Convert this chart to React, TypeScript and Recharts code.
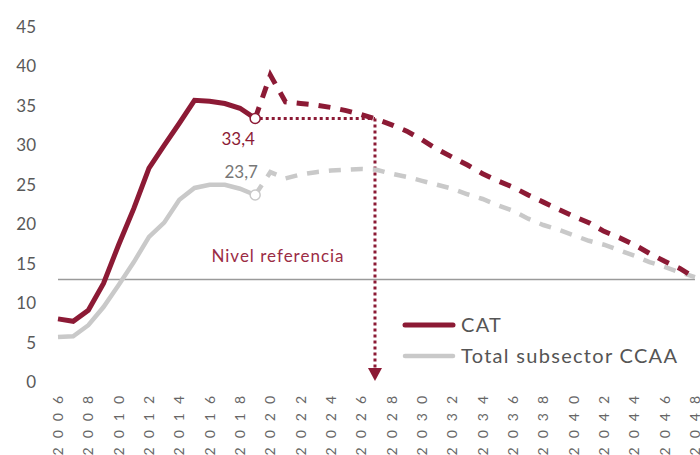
import {
  LineChart,
  Line,
  XAxis,
  YAxis,
  ReferenceLine,
  ReferenceDot,
} from "recharts";

const years: number[] = [];
for (let y = 2006; y <= 2048; y++) years.push(y);

const yearTicks = years.filter((y) => y % 2 === 0);
const valueTicks = [0, 5, 10, 15, 20, 25, 30, 35, 40, 45];

// 2006-2019
const catHist = [8.0, 7.7, 9.1, 12.5, 17.4, 22.0, 27.1, 30.0, 32.8, 35.7, 35.6, 35.3, 34.7, 33.4];
const ccaaHist = [5.7, 5.8, 7.2, 9.5, 12.3, 15.2, 18.4, 20.2, 23.1, 24.6, 25.0, 25.0, 24.5, 23.7];

// 2019-2048
const catProj = [
  33.4, 38.9, 35.5, 35.3, 35.1, 34.8, 34.4, 33.9, 33.3, 32.6, 31.8, 30.7, 29.5, 28.5, 27.5,
  26.4, 25.5, 24.7, 23.7, 22.8, 21.9, 21.0, 20.2, 19.1, 18.3, 17.4, 16.3, 15.3, 14.4, 13.2,
];
const ccaaProj = [
  23.7, 26.6, 25.8, 26.3, 26.6, 26.8, 26.9, 27.0, 26.9, 26.4, 26.0, 25.5, 25.0, 24.5, 23.8,
  23.2, 22.4, 21.7, 20.7, 19.9, 19.3, 18.6, 17.9, 17.4, 16.7, 16.0, 15.2, 14.6, 13.9, 13.3,
];

const legendItems = ["CAT", "Total subsector CCAA"];

const referenceLevel = 13;
const markerYear = 2026.9;

const MAROON = "#8c1a35";
const GREY = "#c9c9c9";
const FONT = "Lato, 'Open Sans', sans-serif";

const data = years.map((year, i) => ({
  year,
  catHist: i < catHist.length ? catHist[i] : null,
  ccaaHist: i < ccaaHist.length ? ccaaHist[i] : null,
  catProj: i >= catHist.length - 1 ? catProj[i - (catHist.length - 1)] : null,
  ccaaProj: i >= ccaaHist.length - 1 ? ccaaProj[i - (ccaaHist.length - 1)] : null,
}));

const lastHist = catHist.length - 1;

function YearTick({ x, y, payload }: any) {
  return (
    <g transform={`translate(${x},${y}) rotate(-90)`}>
      <text
        x={0}
        y={0}
        dy={5}
        textAnchor="end"
        fill="#666"
        fontSize={14}
        fontFamily={FONT}
        style={{ letterSpacing: 9 }}
      >
        {payload.value}
      </text>
    </g>
  );
}

function endDot(color: string) {
  return (props: any) => {
    if (props.index !== lastHist) return <g key={`d-${props.index}`} />;
    return (
      <circle
        key={`d-${props.index}`}
        cx={props.cx}
        cy={props.cy}
        r={5}
        fill="#fff"
        stroke={color}
        strokeWidth={1.5}
      />
    );
  };
}

function endLabel(color: string, dx: number, dy: number) {
  return (props: any) => {
    if (props.index !== lastHist) return null;
    return (
      <text
        x={props.x + dx}
        y={props.y + dy}
        textAnchor="middle"
        fill={color}
        fontSize={17}
        fontFamily={FONT}
      >
        {String(props.value).replace(".", ",")}
      </text>
    );
  };
}

function LegendBox() {
  const colors = [MAROON, GREY];
  return (
    <svg
      width={300}
      height={64}
      style={{ position: "absolute", left: 400, top: 312 }}
    >
      {legendItems.map((label, i) => (
        <g key={label}>
          <line
            x1={5}
            x2={53}
            y1={13 + i * 31}
            y2={13 + i * 31}
            stroke={colors[i]}
            strokeWidth={i === 0 ? 5 : 4.5}
            strokeLinecap="round"
          />
          <text
            x={61}
            y={20 + i * 31}
            fill="#555"
            fontSize={20}
            fontFamily={FONT}
            style={{ letterSpacing: 1.3 }}
          >
            {label}
          </text>
        </g>
      ))}
    </svg>
  );
}

function ArrowHead(props: any) {
  const { cx, cy } = props;
  return <path d={`M${cx - 7},${cy - 7} L${cx + 7},${cy - 7} L${cx},${cy + 6} Z`} fill={MAROON} />;
}

export default function App() {
  return (
    <div style={{ position: "absolute", left: 0, top: 0, width: 700, height: 455, background: "#fff" }}>
      <LineChart
        width={700}
        height={455}
        data={data}
        margin={{ top: 27, right: 5, bottom: 0, left: 0 }}
      >
        <XAxis
          dataKey="year"
          type="number"
          domain={[2006, 2048]}
          ticks={yearTicks}
          interval={0}
          axisLine={false}
          tickLine={false}
          tickSize={0}
          tickMargin={5}
          height={73}
          tick={<YearTick />}
        />
        <YAxis
          domain={[0, 45]}
          ticks={valueTicks}
          axisLine={false}
          tickLine={false}
          tickSize={0}
          tickMargin={22}
          width={58}
          tick={{ fill: "#595959", fontSize: 17, fontFamily: FONT }}
        />
        <ReferenceLine
          y={referenceLevel}
          stroke="#9a9a9a"
          strokeWidth={1.5}
          label={(p: any) => (
            <text
              x={p.viewBox.x + 220}
              y={p.viewBox.y - 17}
              textAnchor="middle"
              fill="#9b2c45"
              fontSize={17}
              fontFamily={FONT}
              style={{ letterSpacing: 1 }}
            >
              Nivel referencia
            </text>
          )}
        />
        <ReferenceLine
          segment={[
            { x: 2019.3, y: 33.4 },
            { x: markerYear, y: 33.4 },
          ]}
          stroke={MAROON}
          strokeWidth={3}
          strokeDasharray="3 3"
        />
        <ReferenceLine
          segment={[
            { x: markerYear, y: 33.4 },
            { x: markerYear, y: 1.8 },
          ]}
          stroke={MAROON}
          strokeWidth={3}
          strokeDasharray="3 3"
        />
        <ReferenceDot x={markerYear} y={0.9} r={6} shape={<ArrowHead />} />
        <Line
          dataKey="ccaaProj"
          stroke={GREY}
          strokeWidth={4.5}
          strokeDasharray="12 10"
          dot={false}
          activeDot={false}
          isAnimationActive={false}
        />
        <Line
          dataKey="catProj"
          stroke={MAROON}
          strokeWidth={5}
          strokeDasharray="12 10"
          dot={false}
          activeDot={false}
          isAnimationActive={false}
        />
        <Line
          dataKey="ccaaHist"
          stroke={GREY}
          strokeWidth={4.5}
          dot={endDot(GREY)}
          activeDot={false}
          label={endLabel("#777", -14, -17)}
          isAnimationActive={false}
        />
        <Line
          dataKey="catHist"
          stroke={MAROON}
          strokeWidth={5}
          dot={endDot(MAROON)}
          activeDot={false}
          label={endLabel(MAROON, -17, 26)}
          isAnimationActive={false}
        />
      </LineChart>
      <LegendBox />
    </div>
  );
}
